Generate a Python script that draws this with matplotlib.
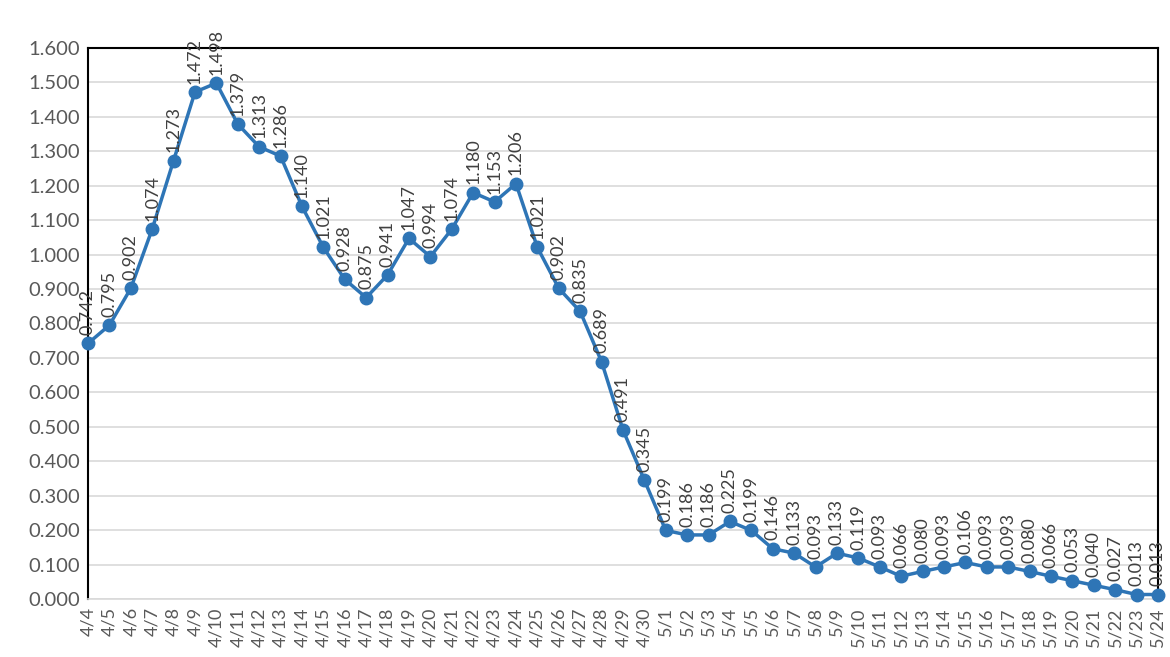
import matplotlib
matplotlib.use('Agg')
import matplotlib.pyplot as plt
import numpy as np

plt.rcParams['font.family'] = ['Lato', 'DejaVu Sans']

# fechas (abril 4 - mayo 24)
fechas = [f'4/{d}' for d in range(4, 31)] + [f'5/{d}' for d in range(1, 25)]

# valores
valores = [0.742, 0.795, 0.902, 1.074, 1.273, 1.472, 1.498, 1.379, 1.313, 1.286,
           1.140, 1.021, 0.928, 0.875, 0.941, 1.047, 0.994, 1.074, 1.180, 1.153,
           1.206, 1.021, 0.902, 0.835, 0.689, 0.491, 0.345,
           0.199, 0.186, 0.186, 0.225, 0.199, 0.146, 0.133, 0.093, 0.133, 0.119,
           0.093, 0.066, 0.080, 0.093, 0.106, 0.093, 0.093, 0.080, 0.066, 0.053,
           0.040, 0.027, 0.013, 0.013]

y_ticks = np.arange(0, 1.61, 0.1)

azul = '#2E75B6'
gris = '#595959'

fig = plt.figure(figsize=(11.7, 6.57), dpi=100)
ax = fig.add_axes([0.0752, 0.0883, 0.9145, 0.8387])

x = np.arange(len(fechas))
ax.plot(x, valores, color=azul, linewidth=2.5, marker='o', markersize=9,
        zorder=3, clip_on=False)

# etiquetas de datos verticales
for xi, v in zip(x, valores):
    ax.annotate(f'{v:.3f}', xy=(xi, v), xytext=(0, 6), textcoords='offset points',
                rotation=90, ha='center', va='bottom', fontsize=13,
                color='#404040', zorder=4, annotation_clip=False)

ax.set_xlim(0, len(fechas) - 1)
ax.set_ylim(0, 1.6)
ax.set_yticks(y_ticks)
ax.set_yticklabels([f'{t:.3f}' for t in y_ticks], color=gris, fontsize=14.5)
ax.set_xticks(x)
ax.set_xticklabels(fechas, rotation=90, color=gris, fontsize=13)
ax.tick_params(axis='both', length=0, pad=6)

ax.grid(axis='y', color='#d9d9d9', linewidth=1.2, zorder=0)
ax.set_axisbelow(True)
for lado in ['left', 'right', 'top']:
    ax.spines[lado].set_color('black')
    ax.spines[lado].set_linewidth(1.5)
ax.spines['bottom'].set_color('#d9d9d9')
ax.spines['bottom'].set_linewidth(1.2)

fig.savefig('out.png', dpi=100)
